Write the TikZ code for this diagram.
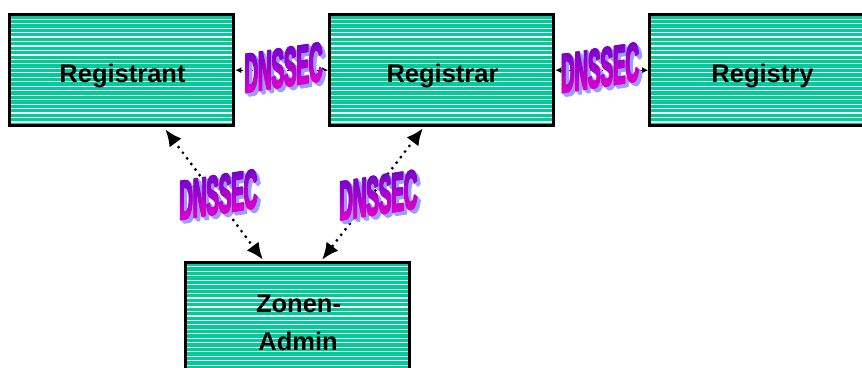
\documentclass[tikz,border=0pt]{standalone}
\usepackage{fontspec}
\setmainfont{Liberation Sans}
\newfontfamily\dnfont[FakeBold=4]{Liberation Sans Bold}
\usetikzlibrary{arrows.meta}
\definecolor{boxteal}{HTML}{00CC99}
\definecolor{dnTop}{HTML}{6A00CC}
\definecolor{dnBot}{HTML}{E000CC}
\definecolor{dnShadow}{HTML}{9C9CFF}

\newcommand\dnsseclabel[3]{%
  \begin{scope}[shift={(#2,#3)}, y=1pt, yslant=0.156, xscale=0.72, yscale=2.1]
    \coordinate (#1) at (0,0);
    \foreach \o in {1,...,6} {
      \node[dnstyle, text=dnShadow] (#1-sh\o) at (0.5+\o*0.75, -\o*0.32) {DNSSEC};
    }
    \foreach \i in {0,...,11} {
      \pgfmathtruncatemacro\pp{\i*100/11}
      \begin{scope}
        \clip (-80, -11+2*\i) rectangle (80, -8.9+2*\i);
        \foreach \dx in {-1,1} {
          \node[dnstyle, text=dnTop!\pp!dnBot] (#1-s\i-\dx) at (\dx*0.45,0) {DNSSEC};
        }
      \end{scope}
    }
  \end{scope}}

\begin{document}
\begin{tikzpicture}[x=1pt, y=-1pt,
  box/.style={draw=black, line width=3pt, fill=boxteal, inner sep=0pt,
    minimum width=224.1pt, minimum height=111pt,
    path picture={
      \foreach \k in {1,...,26}
        \draw[white, line width=1.2pt]
          ([yshift=-\k*4.47pt]path picture bounding box.north west) --
          ([yshift=-\k*4.47pt]path picture bounding box.north east);
    }},
  lbl/.style={font=\fontsize{25.5}{30}\selectfont\bfseries, inner sep=0pt, anchor=base},
  dnstyle/.style={font=\fontsize{26}{26}\selectfont\dnfont, inner sep=0pt, transform shape},
  dashconn/.style={draw=black, line width=1.2pt, dash pattern=on 6pt off 4pt,
    {Latex[length=6pt,width=6pt]}-{Latex[length=6pt,width=6pt]}},
  dotconn/.style={draw=black, line width=3.2pt, dash pattern=on 0pt off 7pt, line cap=round,
    {Latex[length=17pt,width=15pt]}-{Latex[length=17pt,width=15pt]}}
]
\useasboundingbox (0,0) rectangle (862,367);

% boxes
\node[box] (registrant) at (121.75,70.2) {};
\node[box] (registrar)  at (441.75,70.2) {};
\node[box] (registry)   at (761.75,70.2) {};
\node[box] (zonen)      at (297.4,317.8) {};

% labels
\node[lbl] (tRegistrant) at (122.5,82) {Registrant};
\node[lbl] (tRegistrar)  at (442.5,82) {Registrar};
\node[lbl] (tRegistry)   at (762.5,82) {Registry};
\node[lbl] (tZonen)      at (298.5,312) {Zonen-};
\node[lbl] (tAdmin)      at (298,350) {Admin};

% connectors
\draw[dashconn] (registrar.west) -- (registrant.east);
\draw[dashconn] (registry.west) -- (registrar.east);

\coordinate (p1) at ([xshift=43.5pt, yshift=-2pt]registrant.south);
\coordinate (p2) at ([xshift=-34.4pt, yshift=1pt]zonen.north);
\coordinate (p3) at ([xshift=-18.75pt, yshift=-1pt]registrar.south);
\coordinate (p4) at ([xshift=24.6pt, yshift=1pt]zonen.north);
\draw[dotconn] (p1) -- (p2);
\draw[dotconn] (p3) -- (p4);

% word art labels
\dnsseclabel{dnA}{283.5}{67.5}
\dnsseclabel{dnB}{600}{67.7}
\dnsseclabel{dnC}{218.3}{194.5}
\dnsseclabel{dnD}{378.3}{195}
\end{tikzpicture}
\end{document}
